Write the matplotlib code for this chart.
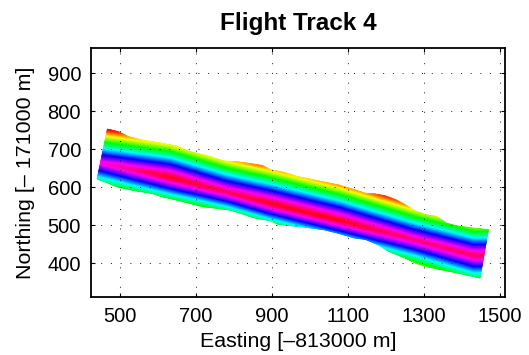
import numpy as np
import matplotlib
matplotlib.use("Agg")
import matplotlib.pyplot as plt

plt.rcParams['font.family'] = ['Liberation Sans', 'DejaVu Sans']

# bordes de la franja
top_x = [467, 496, 522, 558, 602, 647, 682, 736, 771, 807, 851, 874, 896, 931, 967,
         1029, 1074, 1118, 1145, 1172, 1198, 1225, 1252, 1278, 1305, 1332, 1358, 1385, 1429, 1469]
top_y = [753, 746, 733, 724, 717, 709, 694, 681, 669, 667, 661, 657, 646, 639, 628,
         615, 606, 593, 584, 582, 577, 567, 553, 536, 527, 523, 505, 498, 492, 488]
bot_x = [440, 469, 496, 540, 584, 611, 647, 682, 718, 753, 789, 816, 842, 860, 896, 914,
         949, 985, 1038, 1074, 1118, 1145, 1181, 1207, 1252, 1278, 1305, 1340, 1385, 1429, 1447]
bot_y = [622, 611, 600, 591, 584, 575, 567, 558, 549, 545, 540, 532, 523, 518, 512, 503,
         499, 495, 488, 479, 466, 463, 448, 431, 413, 400, 391, 384, 375, 365, 361]

# linea central (maximo), su valor y la caida hacia cada borde
ridge_x = [447, 632, 780, 899, 1079, 1270, 1430]
ridge_y = [666, 628, 589, 558, 514, 464, 422]
ridge_peak = [0.87, 1.0, 0.95, 1.0, 1.0, 0.93, 0.95]
slope_up = [0.0100, 0.0100, 0.0100, 0.0100, 0.0100, 0.0100, 0.0100]
slope_down = [0.0100, 0.0115, 0.0122, 0.0125, 0.0125, 0.0108, 0.0100]

xticks = [500, 700, 900, 1100, 1300, 1500]
yticks = [400, 500, 600, 700, 800, 900]

# malla de la franja
t = np.linspace(0, 1, 300)
s = np.linspace(0, 1, 90)
xt = top_x[0] + t*(top_x[-1]-top_x[0])
yt = np.interp(xt, top_x, top_y)
xb = bot_x[0] + t*(bot_x[-1]-bot_x[0])
yb = np.interp(xb, bot_x, bot_y)
X = xb[None, :] + s[:, None]*(xt-xb)[None, :]
Y = yb[None, :] + s[:, None]*(yt-yb)[None, :]
d = Y - np.interp(X, ridge_x, ridge_y)
k = np.where(d > 0, np.interp(X, ridge_x, slope_up), np.interp(X, ridge_x, slope_down))
V = np.interp(X, ridge_x, ridge_peak) - k*(np.sqrt(d**2 + 2**2) - 2)

fig = plt.figure(figsize=(5.29, 3.55), dpi=100)
ax = fig.add_axes([0.1715, 0.1625, 0.7832, 0.7014])
ax.pcolormesh(X, Y, V, cmap='hsv', vmin=0, vmax=1, shading='gouraud',
              edgecolors='none')

ax.set_xlim(423, 1513)
ax.set_ylim(310, 966)
ax.set_xticks(xticks)
ax.set_yticks(yticks)
ax.tick_params(direction='in', length=3, width=0.8, labelsize=14.5, pad=7,
               top=True, right=True)
ax.grid(True, color='0.1', linestyle=(0, (1, 9)), linewidth=0.7)
for sp in ax.spines.values():
    sp.set_linewidth(1.3)

ax.set_title('Flight Track 4', fontsize=17.5, fontweight='bold', pad=13.5)
ax.set_xlabel('Easting [\u2013813000 m]', fontsize=15.4, labelpad=4)
ax.set_ylabel('Northing [\u2013 171000 m]', fontsize=15.4, labelpad=9)

fig.savefig('out.png', dpi=100)
